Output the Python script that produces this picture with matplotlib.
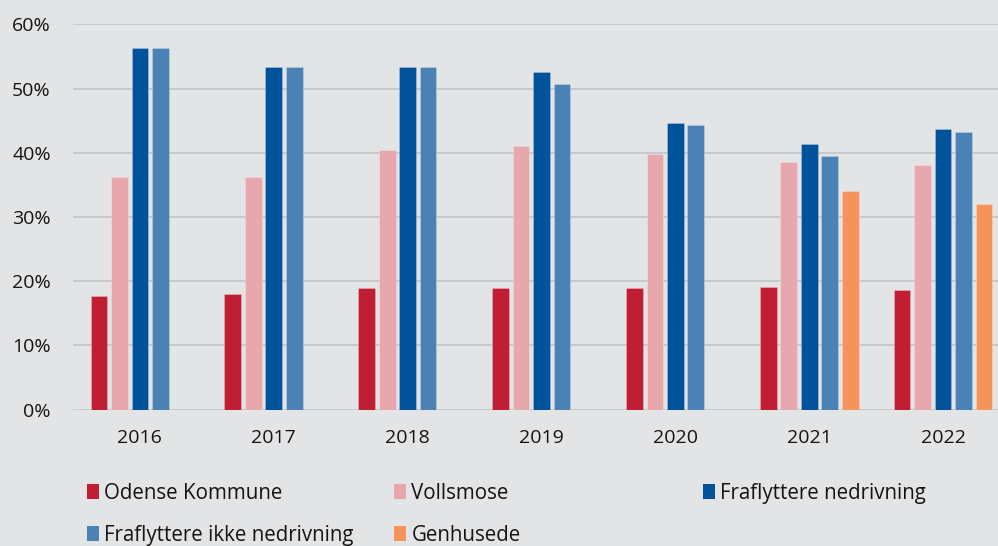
import numpy as np
from matplotlib import pyplot as plt
from matplotlib.patches import Patch

years = ['2016', '2017', '2018', '2019', '2020', '2021', '2022']
odense = [17.7, 18.0, 18.9, 19.0, 19.0, 19.1, 18.6]
vollsmose = [36.2, 36.3, 40.5, 41.0, 39.8, 38.6, 38.1]
fra_nedriv = [56.3, 53.3, 53.4, 52.6, 44.7, 41.4, 43.7]
fra_ikke = [56.3, 53.3, 53.4, 50.7, 44.4, 39.5, 43.3]
genhusede = [np.nan, np.nan, np.nan, np.nan, np.nan, 34.0, 32.1]

names = ['Odense Kommune', 'Vollsmose', 'Fraflyttere nedrivning',
         'Fraflyttere ikke nedrivning', 'Genhusede']
colors = ['#C01F33', '#E8A7AD', '#00529B', '#4A82B5', '#F5935A']
series = [odense, vollsmose, fra_nedriv, fra_ikke, genhusede]

bg = '#E3E4E6'
plt.rcParams['font.family'] = ['Open Sans', 'DejaVu Sans']
plt.rcParams['font.size'] = 14

fig = plt.figure(figsize=(9.98, 5.46), dpi=100, facecolor=bg)
# axes goes a bit past the right edge, like the cropped original
ax = fig.add_axes([73 / 998, 136.3 / 546, 937 / 998, 385.4 / 546])
ax.set_facecolor(bg)

x = np.arange(len(years))
slot = 0.153
for i, (vals, c) in enumerate(zip(series, colors)):
    ax.bar(x + (i - 2) * slot, np.array(vals) / 100, width=0.125, color=c,
           edgecolor='#ffffff40', linewidth=0.6, zorder=3)

ax.set_xlim(-0.5, len(years) - 0.5)
ax.set_ylim(0, 0.6)
ax.set_yticks(np.arange(0, 0.61, 0.1))
ax.set_yticklabels(['%d%%' % v for v in range(0, 61, 10)])
ax.set_xticks(x)
ax.set_xticklabels(years)
ax.grid(axis='y', color='#C3C4C6', linewidth=1.2, zorder=0)
ax.tick_params(axis='both', length=0, colors='#141414')
ax.tick_params(axis='y', pad=16)
ax.tick_params(axis='x', pad=14)
for s in ax.spines.values():
    s.set_visible(False)

handles = [Patch(facecolor=c, edgecolor='none') for c in colors]
cols = [[0, 3], [1, 4], [2]]
col_x = [87, 394, 703]
for idx, cx in zip(cols, col_x):
    fig.legend([handles[k] for k in idx], [names[k] for k in idx],
               loc='upper left', bbox_to_anchor=(cx / 998, 1 - 483 / 546),
               frameon=False, handlelength=0.6, handleheight=0.75,
               handletextpad=0.25, labelspacing=1.0, borderpad=0,
               borderaxespad=0, fontsize=14.8, labelcolor='#141414')

fig.savefig('out.png', dpi=100, facecolor=bg)
